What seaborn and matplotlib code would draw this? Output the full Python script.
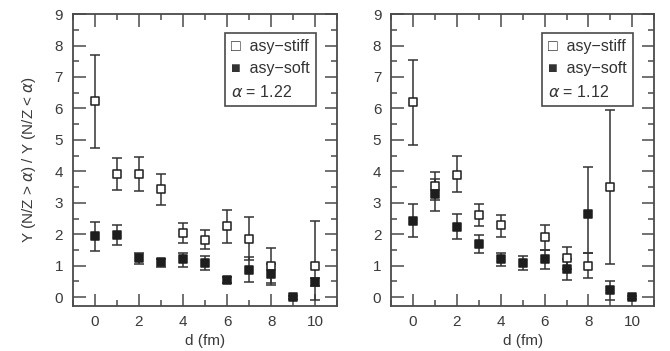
import numpy as np
import matplotlib
matplotlib.use("Agg")
import matplotlib.pyplot as plt
import seaborn as sns
from matplotlib.ticker import MultipleLocator

# Dados
d = [0, 1, 2, 3, 4, 5, 6, 7, 8, 9, 10]
nan = np.nan

# painel esquerdo (alpha = 1.22)
stiff_l = [6.25, 3.93, 3.92, 3.45, 2.05, 1.83, 2.25, 1.85, 1.00, nan, 1.00]
stiff_l_lo = [4.75, 3.42, 3.37, 2.93, 1.72, 1.52, 1.72, 1.18, 0.45, nan, -0.10]
stiff_l_hi = [7.70, 4.42, 4.47, 3.93, 2.35, 2.15, 2.78, 2.55, 1.55, nan, 2.43]
soft_l = [1.93, 1.97, 1.25, 1.13, 1.20, 1.10, 0.55, 0.88, 0.74, 0.00, 0.48]
soft_l_lo = [1.48, 1.65, 1.05, 0.97, 0.97, 0.85, 0.45, 0.48, 0.38, -0.05, 0.35]
soft_l_hi = [2.40, 2.30, 1.40, 1.20, 1.42, 1.30, 0.65, 1.27, 1.05, 0.05, 0.62]

# painel direito (alpha = 1.12)
stiff_r = [6.20, 3.53, 3.90, 2.60, 2.30, nan, 1.90, 1.25, 1.00, 3.50, nan]
stiff_r_lo = [4.85, 3.10, 3.35, 2.25, 1.92, nan, 1.50, 0.90, 0.60, 1.05, nan]
stiff_r_hi = [7.55, 3.97, 4.50, 2.97, 2.62, nan, 2.30, 1.60, 1.40, 5.95, nan]
soft_r = [2.42, 3.27, 2.22, 1.70, 1.20, 1.10, 1.20, 0.90, 2.65, 0.23, 0.00]
soft_r_lo = [1.90, 2.74, 1.85, 1.40, 0.98, 0.88, 0.90, 0.55, 1.40, -0.10, -0.05]
soft_r_hi = [2.95, 3.75, 2.65, 1.98, 1.40, 1.30, 1.50, 1.20, 4.15, 0.50, 0.05]

alphas = ["1.22", "1.12"]

sns.set_theme(style="ticks")
plt.rcParams['font.family'] = ['Liberation Sans', 'DejaVu Sans']
plt.rcParams['mathtext.fontset'] = 'dejavusans'
cor_eixo = '#4a4a4a'
cor_texto = '#3a3a3a'
cor_ponto = '#1e1e1e'

fig = plt.figure(figsize=(6.7, 3.51), dpi=100)
ax_l = fig.add_axes([0.1085, 0.129, 0.395, 0.831])
ax_r = fig.add_axes([0.5836, 0.129, 0.393, 0.831])

paineis = [
    (ax_l, stiff_l, stiff_l_lo, stiff_l_hi, soft_l, soft_l_lo, soft_l_hi, alphas[0]),
    (ax_r, stiff_r, stiff_r_lo, stiff_r_hi, soft_r, soft_r_lo, soft_r_hi, alphas[1]),
]

for ax, st, st_lo, st_hi, so, so_lo, so_hi, alpha in paineis:
    st = np.array(st); so = np.array(so)
    for y, lo, hi in [(st, np.array(st_lo), np.array(st_hi)), (so, np.array(so_lo), np.array(so_hi))]:
        ax.errorbar(d, y, yerr=[y - lo, hi - y], fmt='none', ecolor='#333333',
                    elinewidth=1.1, capsize=3.5, capthick=1.1, zorder=2)
    sns.scatterplot(x=d, y=st, marker='s', s=30, color='white', edgecolor=cor_ponto,
                    linewidth=1.1, ax=ax, zorder=3)
    sns.scatterplot(x=d, y=so, marker='s', s=30, color=cor_ponto, edgecolor=cor_ponto,
                    linewidth=1.1, ax=ax, zorder=4)

    ax.set_xlim(-1, 11)
    ax.set_ylim(-0.27, 9)
    ax.xaxis.set_major_locator(MultipleLocator(2))
    ax.xaxis.set_minor_locator(MultipleLocator(1))
    ax.yaxis.set_major_locator(MultipleLocator(1))
    ax.yaxis.set_minor_locator(MultipleLocator(0.5))
    ax.tick_params(which='both', direction='in', top=True, right=True,
                   color=cor_eixo, width=1.1, labelcolor=cor_texto, labelsize=11)
    ax.tick_params(which='major', length=9, pad=7)
    ax.tick_params(which='minor', length=4.5)
    for sp in ax.spines.values():
        sp.set_color(cor_eixo)
        sp.set_linewidth(1.3)
    ax.set_xlabel('d (fm)', fontsize=11, color=cor_texto, labelpad=3)

    ax.text(0.895, 0.915, "\u25a1  asy\u2212stiff\n\u25a0  asy\u2212soft\n$\\alpha$ = " + alpha,
            transform=ax.transAxes, ha='right', va='top', multialignment='left',
            fontsize=11.5, color='#333333', linespacing=1.6,
            bbox=dict(boxstyle='square,pad=0.38', facecolor='white',
                      edgecolor=cor_eixo, linewidth=1.2))

ax_l.set_ylabel('Y (N/Z > $\\alpha$) / Y (N/Z < $\\alpha$)', fontsize=11,
                color=cor_texto, labelpad=12)

plt.savefig('out.png', dpi=100)
plt.close()
